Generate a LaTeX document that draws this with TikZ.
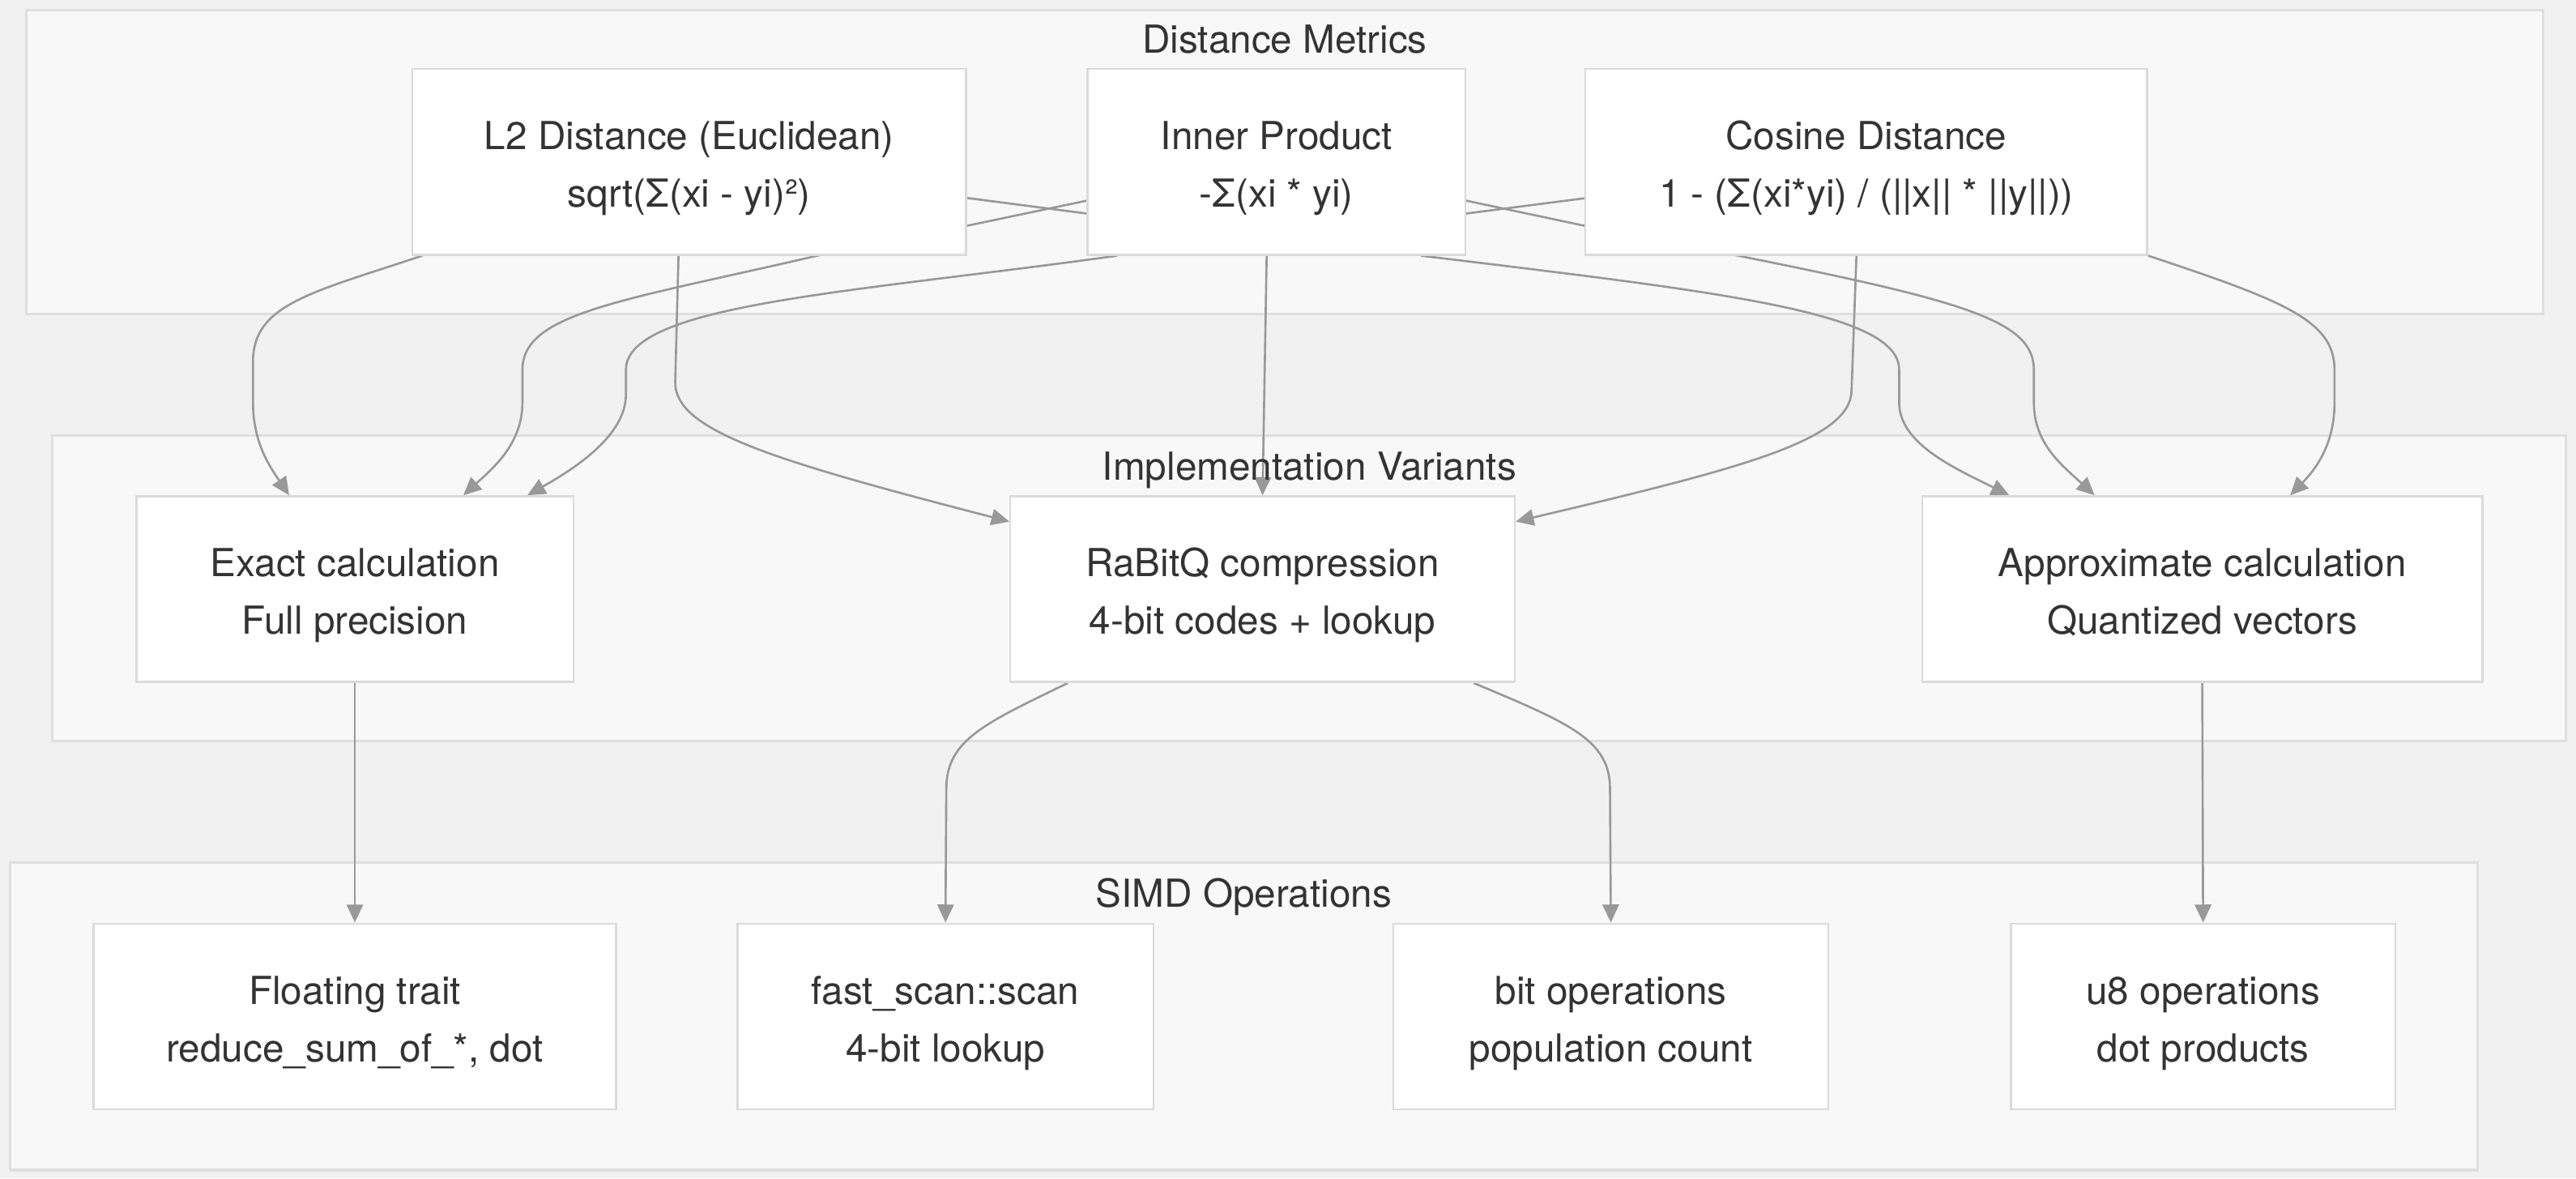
\documentclass[tikz,border=0pt]{standalone}
\usepackage{fontspec}
\setmainfont{TeX Gyre Heros}
\usetikzlibrary{arrows.meta,calc}
\pgfdeclarelayer{bg}
\pgfdeclarelayer{edges}
\pgfsetlayers{bg,edges,main}
\definecolor{pagebg}{HTML}{F1F1F1}
\definecolor{clfill}{HTML}{F8F8F8}
\definecolor{clline}{HTML}{DFDFDF}
\definecolor{boxline}{HTML}{DADADA}
\definecolor{edgec}{HTML}{999999}
\definecolor{txt}{HTML}{333333}
\newcommand\tstrut{\rule{0pt}{26pt}}
\newcommand\bstrut{\rule[-6pt]{0pt}{6pt}}
\tikzset{
  box/.style={draw=boxline, line width=1.2pt, fill=white, inner sep=0pt, align=center,
    text=txt, font=\fontsize{23.5}{35}\selectfont},
  cluster/.style={draw=clline, line width=1.5pt, fill=clfill},
  cltitle/.style={text=txt, font=\fontsize{23.5}{28}\selectfont, inner sep=0pt},
  edge/.style={draw=edgec, line width=1.3pt, -{Triangle[length=11pt,width=10pt]}},
}
\begin{document}
\begin{tikzpicture}[x=1pt,y=-1pt]
\useasboundingbox (0,0) rectangle (1568,717);
\begin{pgfonlayer}{bg}
\fill[pagebg] (0,0) rectangle (1568,717);
\draw[cluster] (16,6) rectangle (1548,191);
\draw[cluster] (32,265) rectangle (1562,451);
\draw[cluster] (6,525) rectangle (1508,712);
\end{pgfonlayer}
\node[cltitle] (t1) at (782,24) {Distance Metrics};
\node[cltitle] (t2) at (797,286) {Implementation Variants};
\node[cltitle] (t3) at (757,546) {SIMD Operations};

% nodes
\node[box, minimum width=337, minimum height=113] (l2) at (419.5,98.5) {\tstrut L2 Distance (Euclidean)\\sqrt(Σ(xi - yi)²)\bstrut};
\node[box, minimum width=230, minimum height=113] (ip) at (777,98.5) {\tstrut Inner Product\\-Σ(xi * yi)\bstrut};
\node[box, minimum width=342, minimum height=113] (cos) at (1136,98.5) {\tstrut Cosine Distance\\1 - (Σ(xi*yi) / (||x|| * ||y||))\bstrut};
\node[box, minimum width=266, minimum height=113] (exact) at (216,358.5) {\tstrut Exact calculation\\Full precision\bstrut};
\node[box, minimum width=307, minimum height=113] (rabitq) at (768.5,358.5) {\tstrut RaBitQ compression\\4-bit codes + lookup\bstrut};
\node[box, minimum width=341, minimum height=113] (approx) at (1340.5,358.5) {\tstrut Approximate calculation\\Quantized vectors\bstrut};
\node[box, minimum width=318, minimum height=113] (flt) at (216,618.5) {\tstrut Floating trait\\reduce\_sum\_of\_*, dot\bstrut};
\node[box, minimum width=253, minimum height=113] (fast) at (575.5,618.5) {\tstrut fast\_scan::scan\\4-bit lookup\bstrut};
\node[box, minimum width=265, minimum height=113] (bit) at (980.5,618.5) {\tstrut bit operations\\population count\bstrut};
\node[box, minimum width=234, minimum height=113] (u8) at (1341,618.5) {\tstrut u8 operations\\dot products\bstrut};

\begin{pgfonlayer}{edges}
% L2 -> Exact
\draw[edge] ([xshift=-162.5]l2.south) .. controls (190,178) and (154,185) .. (154,220) -- (154,245) .. controls (154,270) and (165,285) .. ([xshift=-40]exact.north);
% L2 -> RaBitQ
\draw[edge] ([xshift=-6.5]l2.south) -- (411,232) .. controls (410,262) and (470,280) .. ([yshift=-16]rabitq.north west);
% L2 -> Approx
\draw[edge] (l2.center) -- (662,130) -- (892,122) -- (965,137.5) -- (1055,155) .. controls (1195,183) and (1238,195) .. (1238,225) -- (1238,245) .. controls (1238,270) and (1255,283) .. ([xshift=-65.5]approx.north);
% Inner -> Exact
\draw[edge] ([xshift=-97]ip.south) .. controls (520,178) and (381,185) .. (381,225) -- (381,240) .. controls (381,265) and (350,285) .. ([xshift=105]exact.north);
% Inner -> RaBitQ
\draw[edge] ([xshift=-6]ip.south) -- (rabitq.north);
% Inner -> Approx
\draw[edge] ([xshift=88]ip.south) .. controls (1050,178) and (1156,190) .. (1156,225) -- (1156,245) .. controls (1156,270) and (1190,285) .. ([xshift=-117.5]approx.north);
% Cosine -> Exact
\draw[edge] (cos.center) -- (892,130) -- (662,122) -- (588,137.5) -- (500,155) .. controls (380,183) and (318,190) .. (318,225) -- (318,245) .. controls (318,270) and (300,285) .. ([xshift=66]exact.north);
% Cosine -> RaBitQ
\draw[edge] ([xshift=-6]cos.south) -- (1127,238) .. controls (1126,268) and (1060,285) .. ([yshift=-16]rabitq.north east);
% Cosine -> Approx
\draw[edge] (cos.south east) .. controls (1390,183) and (1421,195) .. (1421,225) -- (1421,245) .. controls (1421,270) and (1410,285) .. ([xshift=53.5]approx.north);
% Exact -> Floating
\draw[edge] (exact.south) -- (flt.north);
% RaBitQ -> fast_scan
\draw[edge] ([xshift=-118.5]rabitq.south) .. controls (600,440) and (576,450) .. (576,480) -- (fast.north);
% RaBitQ -> bit
\draw[edge] ([xshift=128.5]rabitq.south) .. controls (955,440) and (980,450) .. (980,480) -- (bit.north);
% Approx -> u8
\draw[edge] (approx.south) -- (u8.north);
\end{pgfonlayer}
\end{tikzpicture}
\end{document}
